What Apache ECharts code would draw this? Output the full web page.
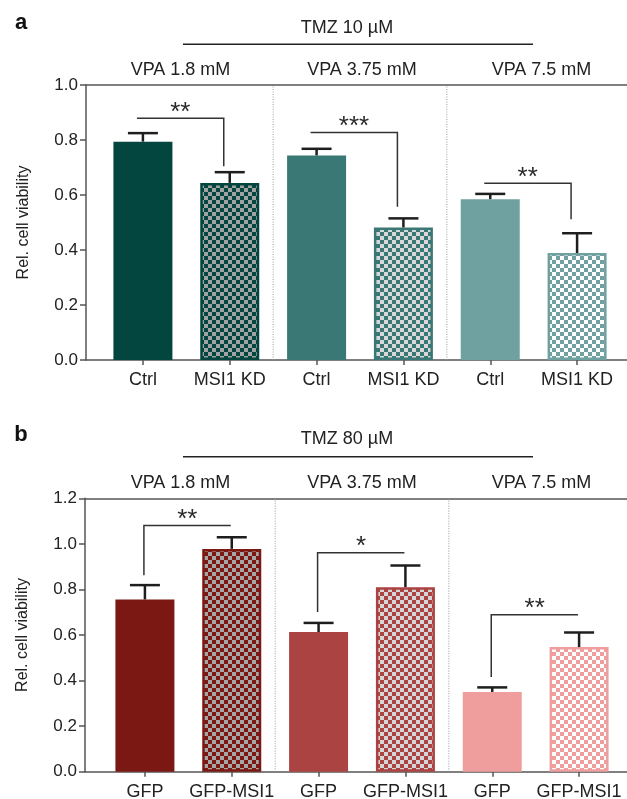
<!DOCTYPE html>
<html><head><meta charset="utf-8">
<script src="https://cdn.jsdelivr.net/npm/echarts@6/dist/echarts.min.js"></script>
<style>html,body{margin:0;padding:0;background:#fff}#c{width:627px;height:799px}</style>
</head><body><div id="c"></div>
<script>
// ---------- data ----------
const catsA = ['Ctrl','MSI1 KD','Ctrl','MSI1 KD','Ctrl','MSI1 KD'];
const valsA = [0.794, 0.644, 0.744, 0.482, 0.585, 0.389];
const errA  = [0.031, 0.039, 0.024, 0.033, 0.019, 0.072];
const catsB = ['GFP','GFP-MSI1','GFP','GFP-MSI1','GFP','GFP-MSI1'];
const valsB = [0.756, 0.978, 0.613, 0.810, 0.350, 0.547];
const errB  = [0.063, 0.051, 0.040, 0.095, 0.020, 0.064];
const groupLabels = ['VPA 1.8 mM','VPA 3.75 mM','VPA 7.5 mM'];
const groupStarts = [2, 4];
const titleA = 'TMZ 10 \u00B5M';
const titleB = 'TMZ 80 \u00B5M';
const yNameA = 'Rel. cell viability';
const yNameB = 'Rel. cell viability';
// brackets: [leftIndex, rightIndex, lineValue, legEndValue]
const bracketsA = [[0,1,0.879,0.705],[2,3,0.827,0.557],[4,5,0.643,0.512]];
const sigA = ['**','***','**'];
const bracketsB = [[0,1,1.081,0.862],[2,3,0.961,0.701],[4,5,0.689,0.416]];
const sigB = ['**','*','**'];

// ---------- styles ----------
const FONT = '"Liberation Sans", Arial, Helvetica, sans-serif';
const baseA = ['#03453f','#03453f','#3a7875','#3a7875','#6ea19f','#6ea19f'];
const checkA = [null,'#a2a2a2',null,'#d8d8d8',null,'#ffffff'];
const baseB = ['#7b1813','#7b1813','#aa4341','#aa4341','#ef9d9d','#ef9d9d'];
const checkB = [null,'#a6a6a6',null,'#d6d6d6',null,'#ffffff'];
const AX = '#555';

function checker(c1, c2) {
  const cv = document.createElement('canvas');
  cv.width = 8; cv.height = 8;
  const g = cv.getContext('2d');
  g.fillStyle = c1; g.fillRect(0,0,8,8);
  g.fillStyle = c2; g.fillRect(0,0,4,4); g.fillRect(4,4,4,4);
  return cv;
}
function barData(vals, base, check) {
  return vals.map((v,i) => check[i]
    ? {value: v, itemStyle: {color: {image: checker(base[i], check[i]), repeat: 'repeat'}, borderColor: base[i], borderWidth: 2.5}}
    : {value: v, itemStyle: {color: base[i]}});
}
function errRender(params, api) {
  const i = api.value(0), v = api.value(1), e = api.value(2);
  const p0 = api.coord([i, v]), p1 = api.coord([i, v + e]);
  const st = {stroke: '#1e1e1e', lineWidth: 2.5};
  return {type: 'group', children: [
    {type: 'line', shape: {x1: p0[0], y1: p0[1], x2: p1[0], y2: p1[1]}, style: st},
    {type: 'line', shape: {x1: p1[0] - 15, y1: p1[1], x2: p1[0] + 15, y2: p1[1]}, style: st}
  ]};
}
function bracketRender(sig, legRight, off) {
  return function (params, api) {
    const l = api.value(0), r = api.value(1), y = api.value(2), yl = api.value(3), k = api.value(4);
    const pl = api.coord([l, y]), pr = api.coord([r, y]);
    const legY = api.coord([l, yl])[1];
    const xl = pl[0] + off, xr = pr[0] + off;
    const pts = legRight ? [[xl, pl[1]], [xr, pl[1]], [xr, legY]] : [[xl, legY], [xl, pl[1]], [xr, pl[1]]];
    return {type: 'group', children: [
      {type: 'polyline', shape: {points: pts}, style: {stroke: '#333', lineWidth: 1.5, fill: null}},
      {type: 'text', x: (xl + xr) / 2, y: pl[1] - 5.5,
       style: {text: sig[k], fontSize: 26, fontFamily: FONT, fill: '#2a2a2a', align: 'center', verticalAlign: 'middle'}}
    ]};
  };
}
function sepRender(max) {
  return function (params, api) {
    const b = api.value(0);
    const x = (api.coord([b - 1, 0])[0] + api.coord([b, 0])[0]) / 2;
    const y0 = api.coord([b, 0])[1], y1 = api.coord([b, max])[1];
    return {type: 'line', shape: {x1: x, y1: y0, x2: x, y2: y1},
            style: {stroke: '#9a9a9a', lineWidth: 1, lineDash: [1, 1.5]}};
  };
}
function frameX(grid, pos) {
  return {gridIndex: grid, type: 'value', min: 0, max: 1, position: pos, show: true,
    axisLine: {show: true, onZero: false, lineStyle: {color: AX, width: 1.5}},
    axisTick: {show: false}, axisLabel: {show: false}, splitLine: {show: false}};
}
function catX(grid, cats, margin) {
  return {gridIndex: grid, type: 'category', data: cats, position: 'bottom',
    axisLine: {show: false},
    axisTick: {show: true, alignWithLabel: true, length: 5, lineStyle: {color: AX, width: 1.5}},
    axisLabel: {fontSize: 18, fontFamily: FONT, color: '#222', margin: margin, interval: 0},
    splitLine: {show: false}};
}
function valY(grid, max, name) {
  return {gridIndex: grid, type: 'value', min: 0, max: max, interval: 0.2,
    axisLine: {show: true, onZero: false, lineStyle: {color: AX, width: 1.5}},
    axisTick: {show: true, length: 6, lineStyle: {color: AX, width: 1.5}},
    axisLabel: {fontSize: 17, fontFamily: FONT, color: '#222', margin: 8, formatter: v => v.toFixed(1)},
    splitLine: {show: false},
    name: name, nameLocation: 'middle', nameGap: 54, nameRotate: 90,
    nameTextStyle: {fontSize: 16, fontFamily: FONT, color: '#222'}};
}
function hiddenY(grid, max) {
  return {gridIndex: grid, type: 'value', min: 0, max: max, show: false, splitLine: {show: false}};
}
function headerGraphics(letter, title, yLetter, yTitle, yLine, yGroups) {
  const out = [
    {type: 'text', x: 21, y: yLetter, style: {text: letter, fontSize: 22, fontWeight: 'bold', fontFamily: FONT, fill: '#111', align: 'center', verticalAlign: 'middle'}},
    {type: 'text', x: 347, y: yTitle, style: {text: title, fontSize: 18, fontFamily: FONT, fill: '#222', align: 'center', verticalAlign: 'middle'}},
    {type: 'line', shape: {x1: 183, y1: yLine, x2: 533, y2: yLine}, style: {stroke: '#222', lineWidth: 1.5}}
  ];
  const gx = [180.5, 362, 541.5];
  groupLabels.forEach((t, i) => out.push({type: 'text', x: gx[i], y: yGroups,
    style: {text: t, fontSize: 18, fontFamily: FONT, fill: '#222', align: 'center', verticalAlign: 'middle'}}));
  return out;
}

const chart = echarts.init(document.getElementById('c'), null, {renderer: 'canvas'});
chart.setOption({
  animation: false,
  backgroundColor: '#fff',
  grid: [
    {left: 86, top: 85, width: 541, height: 275, outerBoundsMode: 'none'},
    {left: 99.5, top: 85, width: 521, height: 275, outerBoundsMode: 'none'},
    {left: 85, top: 498.3, width: 542, height: 273.4, outerBoundsMode: 'none'},
    {left: 101.5, top: 498.3, width: 521, height: 273.4, outerBoundsMode: 'none'}
  ],
  xAxis: [frameX(0, 'bottom'), frameX(0, 'top'), catX(1, catsA, 11),
          frameX(2, 'bottom'), frameX(2, 'top'), catX(3, catsB, 11)],
  yAxis: [valY(0, 1, yNameA), hiddenY(1, 1), valY(2, 1.2, yNameB), hiddenY(3, 1.2)],
  series: [
    {type: 'custom', xAxisIndex: 2, yAxisIndex: 1, renderItem: sepRender(1), data: groupStarts.map(b => [b, 0]), z: 1, silent: true},
    {type: 'bar', xAxisIndex: 2, yAxisIndex: 1, barWidth: 59, data: barData(valsA, baseA, checkA), z: 3},
    {type: 'custom', xAxisIndex: 2, yAxisIndex: 1, renderItem: errRender, data: valsA.map((v, i) => [i, v, errA[i]]), z: 4},
    {type: 'custom', xAxisIndex: 2, yAxisIndex: 1, renderItem: bracketRender(sigA, true, -6), data: bracketsA.map((b, i) => [b[0], b[1], b[2], b[3], i]), z: 4},
    {type: 'custom', xAxisIndex: 5, yAxisIndex: 3, renderItem: sepRender(1.2), data: groupStarts.map(b => [b, 0]), z: 1, silent: true},
    {type: 'bar', xAxisIndex: 5, yAxisIndex: 3, barWidth: 59, data: barData(valsB, baseB, checkB), z: 3},
    {type: 'custom', xAxisIndex: 5, yAxisIndex: 3, renderItem: errRender, data: valsB.map((v, i) => [i, v, errB[i]]), z: 4},
    {type: 'custom', xAxisIndex: 5, yAxisIndex: 3, renderItem: bracketRender(sigB, false, -1), data: bracketsB.map((b, i) => [b[0], b[1], b[2], b[3], i]), z: 4}
  ],
  graphic: headerGraphics('a', titleA, 22.5, 28.5, 44.3, 70)
    .concat(headerGraphics('b', titleB, 435, 439, 456.7, 483))
});
</script></body></html>
